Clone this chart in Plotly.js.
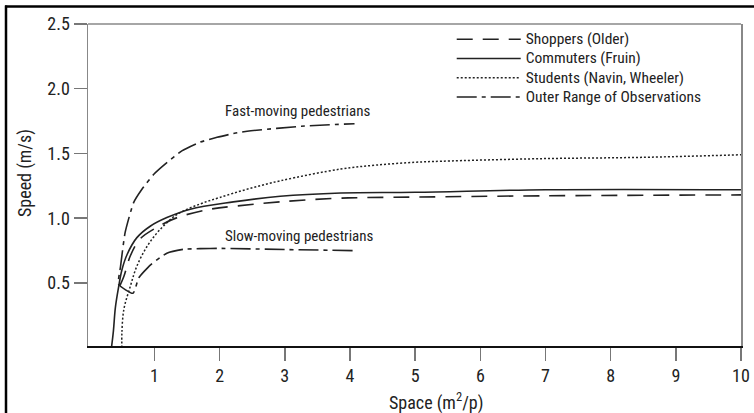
<!DOCTYPE html>
<html>
<head>
<meta charset="utf-8">
<script src="https://cdn.plot.ly/plotly-3.0.1.min.js"></script>
<style>
html,body{margin:0;padding:0;background:#fff;}
#chart{width:754px;height:413px;}
</style>
</head>
<body>
<div id="chart"></div>
<script>
// Data
var shoppersX = [0.47, 0.53, 0.63, 0.78, 1.04, 1.35, 1.86, 2.27, 2.94, 3.86, 5.0, 6.94, 10];
var shoppersY = [0.48, 0.55, 0.71, 0.84, 0.93, 1.005, 1.07, 1.095, 1.127, 1.155, 1.163, 1.173, 1.18];

var commutersX = [0.34, 0.37, 0.40, 0.45, 0.50, 0.58, 0.73, 0.94, 1.19, 1.55, 2.21, 2.93, 3.86, 5.0, 7.0, 10.0];
var commutersY = [0.0, 0.13, 0.31, 0.47, 0.60, 0.72, 0.85, 0.94, 1.005, 1.07, 1.126, 1.17, 1.195, 1.20, 1.22, 1.22];

var studentsX = [0.50, 0.50, 0.53, 0.63, 0.73, 0.89, 1.09, 1.35, 1.70, 2.0, 2.43, 2.94, 3.86, 4.4, 5.0, 5.4, 6.94, 8.48, 10];
var studentsY = [0.0, 0.11, 0.295, 0.475, 0.63, 0.785, 0.915, 1.03, 1.11, 1.16, 1.225, 1.29, 1.38, 1.41, 1.432, 1.44, 1.46, 1.47, 1.49];

// Outer range: slow-moving curve (reversed), connector, fast-moving curve
var outerX = [4.04, 3.0, 2.0, 1.70, 1.45, 1.19, 0.94, 0.76, 0.67, 0.45, 0.48, 0.55, 0.68, 0.81, 0.99, 1.19, 1.42, 1.70, 1.96, 2.27, 2.48, 3.25, 4.07];
var outerY = [0.75, 0.758, 0.767, 0.765, 0.76, 0.73, 0.64, 0.54, 0.42, 0.49, 0.63, 0.89, 1.12, 1.225, 1.34, 1.43, 1.52, 1.587, 1.625, 1.66, 1.675, 1.71, 1.73];

var seriesNames = ["Shoppers (Older)", "Commuters (Fruin)", "Students (Navin, Wheeler)", "Outer Range of Observations"];
var xTicks = [1, 2, 3, 4, 5, 6, 7, 8, 9, 10];
var yTicks = [0.5, 1.0, 1.5, 2.0, 2.5];
var yTickText = ["0.5", "1.0", "1.5", "2.0", "2.5"];
var labelFast = "Fast-moving pedestrians";
var labelSlow = "Slow-moving pedestrians";
var xTitle = "Space (m<sup>2</sup>/p)";
var yTitle = "Speed (m/s)";

var FONT = "Liberation Sans Narrow, Roboto Condensed, DejaVu Sans Condensed, Arial Narrow, sans-serif";
var INK = "#222";

function legendName(s){ return '<span style="font-size:15.5px">' + s + '</span>'; }

var traces = [
  {x: shoppersX, y: shoppersY, name: legendName(seriesNames[0]), mode: "lines",
   line: {color: INK, width: 1.6, dash: "16px,10px", shape: "spline", smoothing: 1}},
  {x: commutersX, y: commutersY, name: legendName(seriesNames[1]), mode: "lines",
   line: {color: INK, width: 1.6, shape: "spline", smoothing: 1}},
  {x: studentsX, y: studentsY, name: legendName(seriesNames[2]), mode: "lines",
   line: {color: INK, width: 1.5, dash: "2px,2px", shape: "spline", smoothing: 1}},
  {x: outerX, y: outerY, name: legendName(seriesNames[3]), mode: "lines",
   line: {color: INK, width: 1.6, dash: "20px,5px,4px,5px", shape: "spline", smoothing: 0.5}}
];

function px2x(p){ return (p - 88) / 653; }
function py2y(p){ return (346 - p) / 322; }

var layout = {
  width: 754, height: 413,
  margin: {l: 88, r: 13, t: 24, b: 67},
  paper_bgcolor: "#fff", plot_bgcolor: "#fff",
  font: {family: FONT, color: INK, size: 15},
  showlegend: true,
  legend: {x: 0.557, y: 0.998, xanchor: "left", yanchor: "top",
           bgcolor: "rgba(0,0,0,0)", borderwidth: 0,
           font: {family: FONT, size: 12.5, color: INK},
           itemwidth: 64, tracegroupgap: 0},
  xaxis: {range: [-0.02, 10], tickvals: xTicks, ticktext: xTicks.map(String),
          showgrid: false, zeroline: false, showline: true, linecolor: "#111", linewidth: 1.5,
          ticks: "outside", ticklen: 13, tickwidth: 1.5, tickcolor: "#777",
          tickfont: {family: FONT, size: 18, color: INK}},
  yaxis: {range: [0.013, 2.5], tickvals: yTicks, ticktext: yTickText,
          showgrid: false, zeroline: false, showline: true, linecolor: "#888", linewidth: 1.5,
          mirror: true,
          ticks: "outside", ticklen: 13, tickwidth: 1.5, tickcolor: "#777",
          tickfont: {family: FONT, size: 18, color: INK}},
  annotations: [
    {x: 3.2, y: 1.83, xref: "x", yref: "y", text: labelFast, showarrow: false,
     font: {family: FONT, size: 15, color: INK}},
    {x: 3.22, y: 0.86, xref: "x", yref: "y", text: labelSlow, showarrow: false,
     font: {family: FONT, size: 15, color: INK}},
    {x: px2x(436), y: py2y(402), xref: "paper", yref: "paper", xanchor: "center", yanchor: "middle",
     text: xTitle, showarrow: false, font: {family: FONT, size: 18, color: INK}},
    {x: px2x(25), y: py2y(173), xref: "paper", yref: "paper", xanchor: "center", yanchor: "middle",
     text: yTitle, showarrow: false, textangle: -90, font: {family: FONT, size: 18, color: INK}}
  ],
  shapes: [
    // top border of plot (gray)
    {type: "line", xref: "paper", yref: "paper", x0: 0, x1: 1, y0: 1, y1: 1,
     line: {color: "#888", width: 1.5}},
    // outer image frame (top and left)
    {type: "line", xref: "paper", yref: "paper", x0: px2x(5), x1: px2x(754), y0: py2y(6.5), y1: py2y(6.5),
     line: {color: "#000", width: 2.5}},
    {type: "line", xref: "paper", yref: "paper", x0: px2x(6), x1: px2x(6), y0: py2y(5.5), y1: py2y(413),
     line: {color: "#000", width: 2.5}}
  ]
};

Plotly.newPlot("chart", traces, layout, {displayModeBar: false, staticPlot: true});
</script>
</body>
</html>
